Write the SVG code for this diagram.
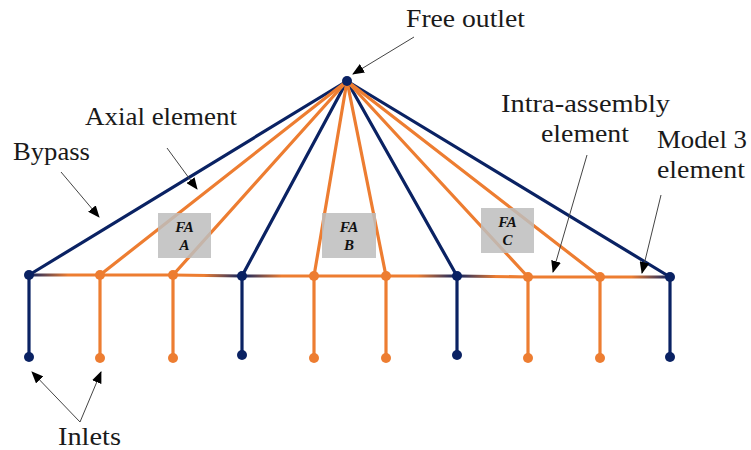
<svg xmlns="http://www.w3.org/2000/svg" width="751" height="450" viewBox="0 0 751 450">
<defs>
<marker id="ah" markerWidth="12" markerHeight="10" refX="11" refY="5" orient="auto" markerUnits="userSpaceOnUse">
<path d="M0,0 L12,5 L0,10 z" fill="#000"/>
</marker>
<linearGradient id="g1" gradientUnits="userSpaceOnUse" x1="29" y1="0" x2="100" y2="0"><stop offset="0" stop-color="#0a2263"/><stop offset="0.55" stop-color="#ed7d31"/></linearGradient>
<linearGradient id="g2" gradientUnits="userSpaceOnUse" x1="173" y1="0" x2="242" y2="0"><stop offset="0.45" stop-color="#ed7d31"/><stop offset="1" stop-color="#0a2263"/></linearGradient>
<linearGradient id="g3" gradientUnits="userSpaceOnUse" x1="242" y1="0" x2="314" y2="0"><stop offset="0" stop-color="#0a2263"/><stop offset="0.55" stop-color="#ed7d31"/></linearGradient>
<linearGradient id="g4" gradientUnits="userSpaceOnUse" x1="386" y1="0" x2="457" y2="0"><stop offset="0.45" stop-color="#ed7d31"/><stop offset="1" stop-color="#0a2263"/></linearGradient>
<linearGradient id="g5" gradientUnits="userSpaceOnUse" x1="457" y1="0" x2="528" y2="0"><stop offset="0" stop-color="#0a2263"/><stop offset="0.55" stop-color="#ed7d31"/></linearGradient>
<linearGradient id="g6" gradientUnits="userSpaceOnUse" x1="600" y1="0" x2="670" y2="0"><stop offset="0.45" stop-color="#ed7d31"/><stop offset="1" stop-color="#0a2263"/></linearGradient>
</defs>
<rect width="751" height="450" fill="#fff"/>
<g id="connectors" fill="none" stroke-width="3.2" stroke-linecap="round">
<g stroke="#0a2263">
<path d="M347,81 L29,275"/>
<path d="M347,81 L242,276"/>
<path d="M347,81 L457,276"/>
<path d="M347,81 L670,277"/>
<path d="M29,275 L29,357"/>
<path d="M242,276 L242,355"/>
<path d="M457,276 L457,355"/>
<path d="M670,277 L670,357"/>
</g>
<g stroke="#ed7d31">
<path d="M347,81 L100,275"/>
<path d="M347,81 L173,275"/>
<path d="M347,81 L314,276"/>
<path d="M347,81 L386,276"/>
<path d="M347,81 L528,277"/>
<path d="M347,81 L600,277"/>
<path d="M100,275 L173,275"/>
<path d="M314,276 L386,276"/>
<path d="M528,277 L600,277"/>
<path d="M100,275 L100,358"/>
<path d="M173,275 L173,358"/>
<path d="M314,276 L314,358"/>
<path d="M386,276 L386,358"/>
<path d="M528,277 L528,358"/>
<path d="M600,277 L600,358"/>
</g>
<path d="M29,275 L100,275" stroke="url(#g1)" stroke-linecap="butt"/>
<path d="M173,275 L242,276" stroke="url(#g2)" stroke-linecap="butt"/>
<path d="M242,276 L314,276" stroke="url(#g3)" stroke-linecap="butt"/>
<path d="M386,276 L457,276" stroke="url(#g4)" stroke-linecap="butt"/>
<path d="M457,276 L528,277" stroke="url(#g5)" stroke-linecap="butt"/>
<path d="M600,277 L670,277" stroke="url(#g6)" stroke-linecap="butt"/>
</g>
<g id="outlet" fill="#0a2263"><circle cx="347" cy="81" r="5"/></g>
<g id="junctions">
<g fill="#0a2263">
<circle cx="29" cy="275" r="5"/>
<circle cx="242" cy="276" r="5"/>
<circle cx="457" cy="276" r="5"/>
<circle cx="670" cy="277" r="5"/>
</g>
<g fill="#ed7d31">
<circle cx="100" cy="275" r="5"/>
<circle cx="173" cy="275" r="5"/>
<circle cx="314" cy="276" r="5"/>
<circle cx="386" cy="276" r="5"/>
<circle cx="528" cy="277" r="5"/>
<circle cx="600" cy="277" r="5"/>
</g>
</g>
<g id="inlets">
<g fill="#0a2263">
<circle cx="29" cy="357" r="5"/>
<circle cx="242" cy="355" r="5"/>
<circle cx="457" cy="355" r="5"/>
<circle cx="670" cy="357" r="5"/>
</g>
<g fill="#ed7d31">
<circle cx="100" cy="358" r="5"/>
<circle cx="173" cy="358" r="5"/>
<circle cx="314" cy="358" r="5"/>
<circle cx="386" cy="358" r="5"/>
<circle cx="528" cy="358" r="5"/>
<circle cx="600" cy="358" r="5"/>
</g>
</g>
<g font-family="Liberation Serif" font-size="15" font-weight="bold" font-style="italic" text-anchor="middle" fill="#111">
<g id="faA"><rect x="158" y="213" width="53" height="45" fill="#bdbdbd" fill-opacity="0.85"/><text x="184.5" y="232">FA</text><text x="184.5" y="250">A</text></g>
<g id="faB"><rect x="322" y="213" width="54" height="45" fill="#bdbdbd" fill-opacity="0.85"/><text x="349" y="232">FA</text><text x="349" y="250">B</text></g>
<g id="faC"><rect x="481" y="208" width="53" height="45" fill="#bdbdbd" fill-opacity="0.85"/><text x="507.5" y="227">FA</text><text x="507.5" y="245">C</text></g>
</g>
<g id="labels" fill="#1a1a1a" font-family="Liberation Serif" font-size="25" lengthAdjust="spacingAndGlyphs">
<text x="406" y="27" textLength="119" lengthAdjust="spacingAndGlyphs">Free outlet</text>
<text x="85" y="125" textLength="152" lengthAdjust="spacingAndGlyphs">Axial element</text>
<text x="13" y="160" textLength="77" lengthAdjust="spacingAndGlyphs">Bypass</text>
<text x="501" y="112" textLength="169" lengthAdjust="spacingAndGlyphs">Intra-assembly</text>
<text x="541" y="142" textLength="88" lengthAdjust="spacingAndGlyphs">element</text>
<text x="657" y="148" textLength="90" lengthAdjust="spacingAndGlyphs">Model 3</text>
<text x="657" y="178" textLength="88" lengthAdjust="spacingAndGlyphs">element</text>
<text x="58" y="445" textLength="63" lengthAdjust="spacingAndGlyphs">Inlets</text>
</g>
<g id="annotations" stroke="#444" stroke-width="1" fill="none" marker-end="url(#ah)">
<path d="M414,37 L353,74"/>
<path d="M167,148 L197,189"/>
<path d="M61,172 L99,217"/>
<path d="M587,155 L553,272"/>
<path d="M661,195 L642,273"/>
<path d="M80,422 L32,372"/>
<path d="M80,422 L101,372"/>
</g>
</svg>
